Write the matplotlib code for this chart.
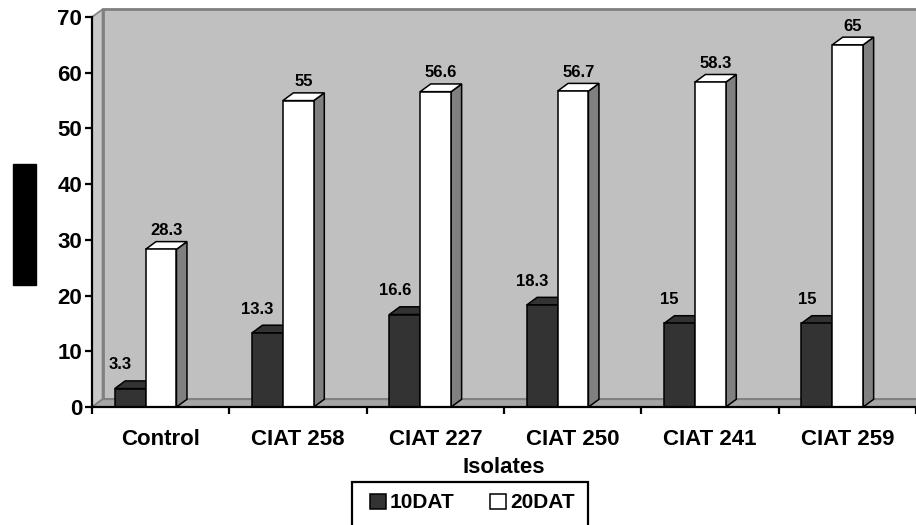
import numpy as np
from matplotlib import pyplot as plt
from matplotlib.patches import Rectangle, Polygon

categories = ['Control', 'CIAT 258', 'CIAT 227', 'CIAT 250', 'CIAT 241', 'CIAT 259']
dat10 = [3.3, 13.3, 16.6, 18.3, 15, 15]
dat20 = [28.3, 55, 56.6, 56.7, 58.3, 65]
dat10_labels = ['3.3', '13.3', '16.6', '18.3', '15', '15']
dat20_labels = ['28.3', '55', '56.6', '56.7', '58.3', '65']

plt.rcParams['font.family'] = ['Liberation Sans', 'DejaVu Sans']
plt.rcParams['font.weight'] = 'bold'

W, H = 916, 525
fig = plt.figure(figsize=(W / 100, H / 100), dpi=100)
ax = fig.add_axes([92 / W, 118 / H, 824 / W, 390 / H])
ax.set_xlim(0, 6)
ax.set_ylim(0, 70)
ax.patch.set_visible(False)

# pixel -> data scale for the 3d depth
px_x = 6 / 824
px_y = 70 / 390
dx = 10.5 * px_x
dy = 7.7 * px_y

wall = '#c0c0c0'
edge_gray = '#808080'

# back wall, side wall, floor
ax.add_patch(Rectangle((dx, dy), 6.5, 70, facecolor=wall, edgecolor=edge_gray,
                       lw=2, clip_on=False, zorder=0))
ax.add_patch(Polygon([(0, 0), (dx, dy), (dx, 70 + dy), (0, 70)], closed=True,
                     facecolor='#c8c8c8', edgecolor=edge_gray, lw=1.2, clip_on=False, zorder=0.5))
ax.add_patch(Polygon([(0, 0), (6.5, 0), (6.5 + dx, dy), (dx, dy)], closed=True,
                     facecolor='#a6a6a6', edgecolor=edge_gray, lw=1.2, clip_on=False, zorder=0.5))


def bar3d(x0, w, h, front, top, side, z):
    ax.add_patch(Polygon([(x0 + w, 0), (x0 + w + dx, dy), (x0 + w + dx, h + dy), (x0 + w, h)],
                         closed=True, facecolor=side, edgecolor='black', lw=1.1,
                         clip_on=False, zorder=z))
    ax.add_patch(Polygon([(x0, h), (x0 + w, h), (x0 + w + dx, h + dy), (x0 + dx, h + dy)],
                         closed=True, facecolor=top, edgecolor='black', lw=1.1,
                         clip_on=False, zorder=z))
    ax.add_patch(Rectangle((x0, 0), w, h, facecolor=front, edgecolor='black', lw=1.1,
                           clip_on=False, zorder=z + 0.1))


bw = 0.225
for i in range(len(categories)):
    x1 = i + 0.165
    x2 = x1 + bw
    bar3d(x1, bw, dat10[i], '#333333', '#333333', '#333333', 2 + i)
    bar3d(x2, bw, dat20[i], 'white', 'white', edge_gray, 2.5 + i)
    ax.text(x1 + bw / 2 - 10 * px_x, dat10[i] + dy + 16 * px_y, dat10_labels[i],
            ha='center', va='center', fontsize=12, fontweight='bold', zorder=20)
    ax.text(x2 + bw / 2 + dx / 2, dat20[i] + dy + 11 * px_y, dat20_labels[i],
            ha='center', va='center', fontsize=12, fontweight='bold', zorder=20)

for s in ['top', 'right']:
    ax.spines[s].set_visible(False)
for s in ['left', 'bottom']:
    ax.spines[s].set_linewidth(1.6)
    ax.spines[s].set_zorder(30)

ax.set_yticks(range(0, 71, 10))
ax.tick_params(axis='y', length=5, width=1.6, pad=2, labelsize=16)
ax.set_xticks(range(7))
ax.set_xticklabels([])
ax.tick_params(axis='x', which='major', length=5, width=1.6)
ax.set_xticks(np.arange(len(categories)) + 0.5, minor=True)
ax.set_xticklabels(categories, minor=True, fontsize=16, fontweight='bold')
ax.tick_params(axis='x', which='minor', length=0, pad=16)
for t in ax.get_yticklabels():
    t.set_fontweight('bold')

ax.set_xlabel('Isolates', fontsize=16, fontweight='bold', labelpad=5)

# y label box (unreadable in source)
fig.patches.append(Rectangle((13 / W, 1 - 285 / H), 23 / W, 121 / H,
                             transform=fig.transFigure, color='black'))

# legend frame runs off the bottom of the picture
fig.patches.append(Rectangle((352 / W, -10 / H), 236 / W, (525 - 482 + 10) / H,
                             transform=fig.transFigure, facecolor='white',
                             edgecolor='black', lw=1.6))
h1 = Rectangle((0, 0), 1, 1, facecolor='#333333', edgecolor='black', lw=1.1)
h2 = Rectangle((0, 0), 1, 1, facecolor='white', edgecolor='black', lw=1.1)
leg = fig.legend([h1, h2], ['10DAT', '20DAT'], ncol=2, loc='center left',
                 bbox_to_anchor=(370 / W, 1 - 503 / H), frameon=False,
                 prop={'size': 15, 'weight': 'bold'}, handlelength=0.75, handleheight=0.75,
                 handletextpad=0.2, columnspacing=1.7, borderpad=0, borderaxespad=0)

plt.savefig('out.png', dpi=100)
